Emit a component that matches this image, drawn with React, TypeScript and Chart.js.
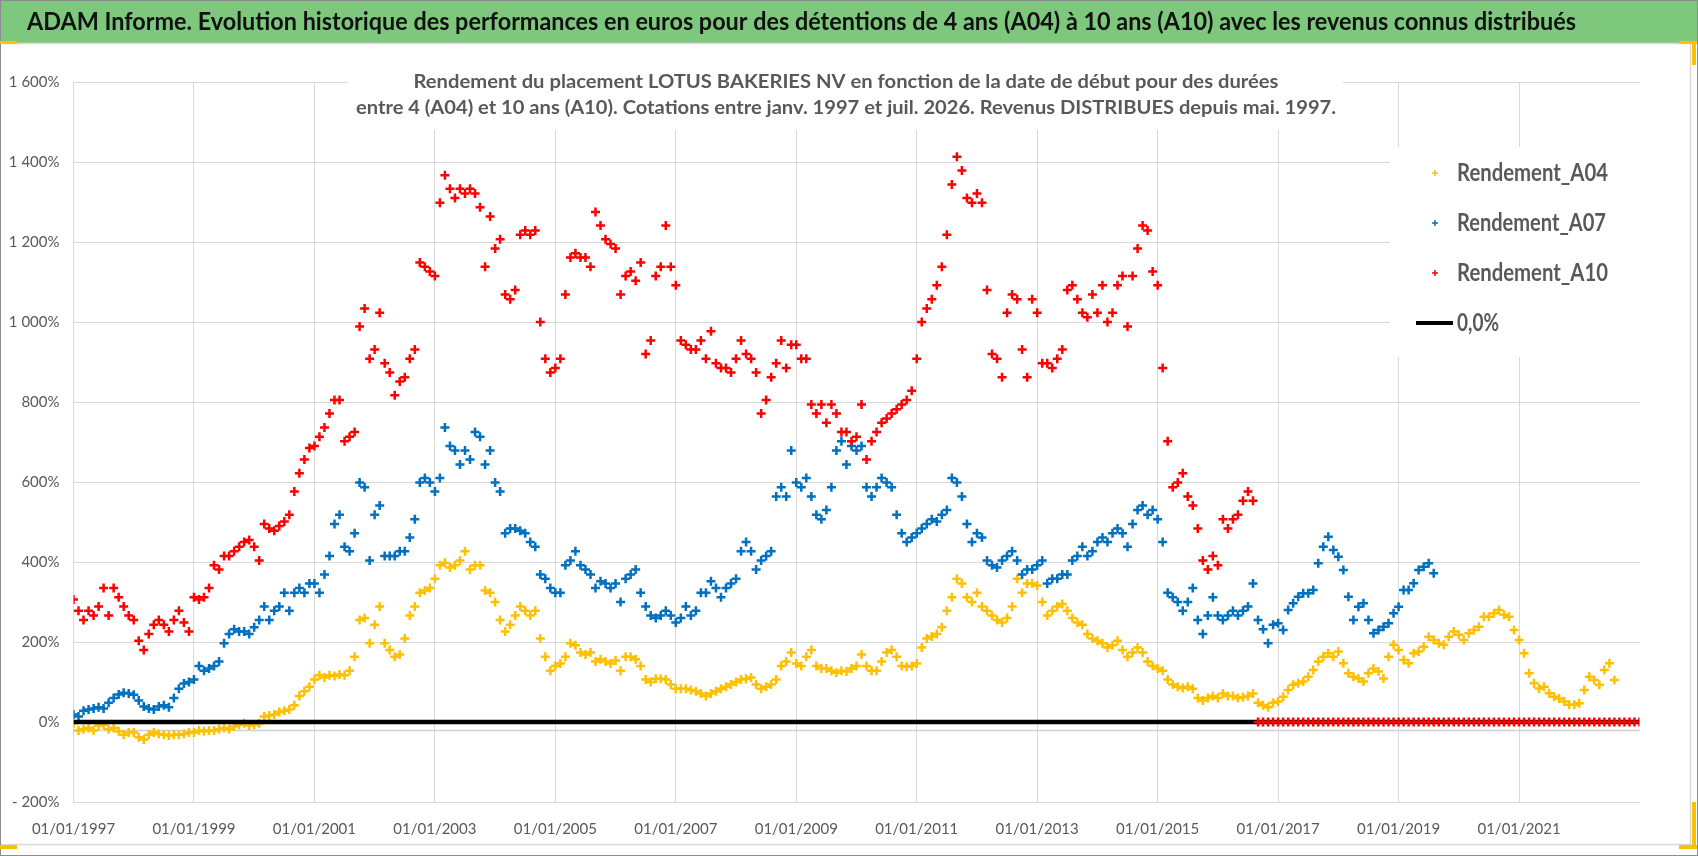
import React, { useEffect, useRef } from "react";
import { Chart, registerables } from "chart.js";

Chart.register(...registerables);

// first value of every series is January 1997, then one value per month
const START_YEAR = 1997;

const tickYears = [1997, 1999, 2001, 2003, 2005, 2007, 2009, 2011, 2013, 2015, 2017, 2019, 2021];

const seriesLabels = ["Rendement_A04", "Rendement_A07", "Rendement_A10"];
const seriesColors = ["#FFC000", "#0070C0", "#FF0000"];

// Rendement_A04 (%), monthly from 01/1997
const rendementA04 = [
  -3, -21, -18, -15, -21, -9, -7, -18, -15, -23, -32, -26,
  -26, -38, -44, -32, -26, -30, -32, -34, -32, -32, -30, -26,
  -26, -21, -23, -21, -21, -18, -15, -18, -11, -7, -3, -9,
  -7, -3, 14, 16, 19, 25, 28, 31, 42, 65, 77, 88,
  106, 117, 111, 117, 115, 119, 117, 128, 163, 255, 260, 197,
  243, 289, 197, 180, 163, 169, 209, 266, 289, 323, 329, 335,
  358, 392, 398, 386, 392, 404, 427, 381, 392, 392, 329, 323,
  300, 255, 226, 243, 266, 289, 278, 266, 278, 209, 163, 128,
  140, 146, 163, 197, 192, 174, 169, 174, 151, 157, 151, 146,
  154, 128, 163, 163, 157, 140, 106, 100, 108, 108, 106, 94,
  83, 83, 83, 80, 77, 71, 65, 71, 77, 83, 88, 94,
  100, 106, 108, 111, 94, 83, 88, 94, 106, 140, 151, 174,
  146, 140, 163, 180, 140, 134, 134, 128, 123, 128, 126, 134,
  140, 169, 140, 128, 128, 151, 174, 180, 163, 140, 138, 140,
  146, 186, 209, 214, 220, 237, 278, 312, 358, 346, 312, 300,
  323, 289, 278, 266, 255, 249, 260, 289, 358, 323, 346, 346,
  341, 300, 266, 278, 289, 295, 278, 260, 249, 243, 220, 209,
  203, 197, 186, 192, 203, 180, 163, 174, 186, 174, 151, 140,
  134, 128, 106, 94, 88, 85, 88, 83, 60, 54, 60, 65,
  60, 71, 65, 65, 60, 62, 65, 71, 48, 42, 37, 48,
  51, 63, 80, 93, 97, 101, 113, 130, 151, 163, 172, 163,
  176, 147, 122, 113, 109, 101, 122, 134, 126, 109, 163, 193,
  180, 155, 147, 172, 176, 188, 213, 205, 197, 193, 213, 226,
  218, 205, 222, 230, 238, 263, 263, 272, 280, 268, 263, 230,
  205, 172, 122, 97, 84, 88, 72, 63, 59, 51, 43, 43,
  47, 80, 113, 105, 93, 130, 147, 105,
];

// Rendement_A07 (%), monthly from 01/1997
const rendementA07 = [
  19, 14, 28, 31, 34, 37, 34, 48, 60, 69, 73, 71,
  68, 54, 39, 34, 31, 39, 42, 37, 60, 83, 96, 100,
  106, 140, 128, 134, 140, 151, 197, 220, 232, 226, 226, 220,
  237, 255, 289, 255, 278, 289, 323, 278, 323, 335, 323, 346,
  346, 323, 369, 415, 495, 518, 438, 427, 472, 599, 587, 404,
  518, 541, 415, 415, 415, 427, 427, 461, 507, 599, 610, 599,
  576, 610, 736, 690, 679, 644, 679, 656, 725, 713, 644, 679,
  599, 576, 472, 484, 484, 478, 472, 450, 438, 369, 358, 335,
  323, 323, 392, 404, 427, 392, 381, 369, 335, 352, 346, 335,
  346, 300, 358, 369, 381, 323, 289, 266, 260, 266, 278, 266,
  249, 260, 289, 266, 278, 323, 323, 352, 335, 312, 335, 346,
  358, 427, 450, 427, 381, 404, 415, 427, 564, 587, 564, 679,
  599, 587, 610, 564, 518, 507, 530, 587, 679, 702, 644, 690,
  679, 690, 587, 564, 587, 610, 599, 587, 518, 472, 450, 461,
  472, 484, 495, 507, 501, 518, 530, 610, 599, 564, 495, 450,
  472, 461, 404, 392, 386, 404, 415, 427, 404, 369, 381, 381,
  392, 404, 346, 358, 358, 369, 369, 404, 415, 438, 415, 427,
  450, 461, 450, 472, 484, 472, 438, 495, 530, 541, 518, 530,
  507, 450, 323, 312, 300, 278, 300, 335, 255, 220, 266, 312,
  266, 255, 266, 278, 266, 278, 289, 346, 255, 232, 197, 243,
  247, 230, 280, 297, 313, 322, 322, 330, 397, 438, 463, 430,
  413, 380, 313, 255, 288, 297, 255, 222, 230, 238, 247, 272,
  288, 330, 330, 347, 380, 388, 397, 372,
];

// Rendement_A10 (%), monthly from 01/1997 (0 once the 10 years are not complete)
const rendementA10 = [
  306, 278, 255, 278, 266, 289, 335, 266, 335, 312, 289, 266,
  255, 203, 180, 220, 243, 255, 243, 226, 255, 278, 249, 226,
  312, 306, 312, 335, 392, 381, 415, 415, 427, 438, 450, 455,
  438, 404, 495, 484, 478, 490, 501, 518, 576, 622, 656, 685,
  690, 713, 736, 771, 805, 805, 702, 713, 725, 989, 1034, 908,
  931, 1023, 897, 874, 817, 851, 862, 908, 931, 1149, 1138, 1126,
  1115, 1298, 1367, 1333, 1310, 1333, 1321, 1333, 1321, 1287, 1138, 1264,
  1184, 1207, 1069, 1057, 1080, 1218, 1229, 1218, 1229, 1000, 908, 874,
  885, 908, 1069, 1161, 1172, 1161, 1161, 1138, 1275, 1241, 1207, 1195,
  1184, 1069, 1115, 1126, 1103, 1149, 920, 954, 1115, 1138, 1241, 1138,
  1092, 954, 943, 931, 931, 954, 908, 977, 897, 885, 885, 874,
  908, 954, 920, 908, 874, 771, 805, 862, 897, 954, 885, 943,
  943, 908, 908, 794, 771, 794, 748, 794, 771, 725, 725, 702,
  713, 794, 656, 702, 725, 748, 759, 771, 782, 794, 805, 828,
  908, 1000, 1034, 1057, 1092, 1138, 1218, 1344, 1413, 1379, 1310, 1298,
  1321, 1298, 1080, 920, 908, 862, 1023, 1069, 1057, 931, 862, 1057,
  1023, 897, 897, 885, 908, 931, 1080, 1092, 1057, 1023, 1012, 1069,
  1023, 1092, 1000, 1023, 1092, 1115, 989, 1115, 1184, 1241, 1229, 1126,
  1092, 885, 702, 587, 599, 622, 564, 541, 484, 404, 381, 415,
  392, 507, 484, 507, 518, 553, 576, 553,
  0, 0, 0, 0, 0, 0, 0, 0, 0, 0, 0,
  0, 0, 0, 0, 0, 0, 0, 0, 0, 0, 0,
  0, 0, 0, 0, 0, 0, 0, 0, 0, 0, 0,
  0, 0, 0, 0, 0, 0, 0, 0, 0, 0, 0,
  0, 0, 0, 0, 0, 0, 0, 0, 0, 0, 0,
  0, 0, 0, 0, 0, 0, 0, 0, 0, 0, 0,
  0, 0, 0, 0, 0, 0, 0, 0, 0, 0, 0,
];

// the black 0,0% reference line
const zeroLineLabel = "0,0%";
const zeroLineYears = [1997, 2023];
const zeroLineValues = [0, 0];

const TITLE =
  "ADAM Informe. Evolution historique des performances en euros pour des détentions de 4 ans (A04) à 10 ans (A10) avec les revenus connus distribués";
const SUBTITLE = [
  "Rendement du placement LOTUS BAKERIES NV en fonction de la date de début pour des durées",
  "entre 4 (A04) et 10 ans (A10). Cotations entre janv. 1997 et juil. 2026. Revenus DISTRIBUES depuis mai. 1997.",
];

const GRID = "#D9D9D9";
const TEXT = "#595959";
const FONT = "Lato, 'Open Sans', sans-serif";

const toPoints = (values: number[]) =>
  values.map((v, i) => ({ x: START_YEAR + i / 12, y: v }));

const fmtPct = (v: number) => {
  const s = Math.abs(v).toString().replace(/\B(?=(\d{3})+(?!\d))/g, " ");
  return (v < 0 ? "- " : "") + s + "%";
};

// draw text squeezed/stretched to an exact width (Calibri look-alike)
function fitText(ctx: CanvasRenderingContext2D, text: string, x: number, y: number, width: number, align: "left" | "center") {
  const w = ctx.measureText(text).width;
  const k = width / w;
  ctx.save();
  ctx.translate(align === "center" ? x - width / 2 : x, y);
  ctx.scale(k, 1);
  ctx.textAlign = "left";
  ctx.textBaseline = "middle";
  ctx.fillText(text, 0, 0);
  ctx.restore();
}

const framePlugin = {
  id: "excelFrame",
  beforeDraw(chart: any) {
    const { ctx, width, height } = chart;
    ctx.save();
    ctx.fillStyle = "#FFFFFF";
    ctx.fillRect(0, 0, width, height);
    // green title banner
    ctx.fillStyle = "#7EC87E";
    ctx.fillRect(0, 0, width, 43);
    ctx.fillStyle = "#111111";
    ctx.font = `bold 25px ${FONT}`;
    fitText(ctx, TITLE, 27, 22, 1549, "left");
    // chart border
    ctx.strokeStyle = GRID;
    ctx.lineWidth = 1.5;
    ctx.beginPath();
    ctx.moveTo(0, 43.5);
    ctx.lineTo(1690.5, 43.5);
    ctx.lineTo(1690.5, 844.5);
    ctx.lineTo(0, 844.5);
    ctx.stroke();
    ctx.strokeStyle = "#8C8C8C";
    ctx.lineWidth = 1;
    ctx.strokeRect(0.5, 0.5, width - 1, height - 1);
    // selection handles
    ctx.fillStyle = "#FFC000";
    ctx.fillRect(0, 41, 17, 3);
    ctx.fillRect(0, 845, 17, 4);
    ctx.fillRect(1679, 41, 18, 3);
    ctx.fillRect(1692, 41, 4, 24);
    ctx.fillRect(1692, 802, 4, 47);
    ctx.fillRect(1679, 845, 18, 4);
    ctx.restore();
  },
  beforeDatasetsDraw(chart: any) {
    // horizontal axis line, just under the 0% level
    const { ctx, chartArea, scales } = chart;
    const y = Math.round(scales.y.getPixelForValue(-20)) + 0.5;
    ctx.save();
    ctx.strokeStyle = "#CFCFCF";
    ctx.lineWidth = 1.5;
    ctx.beginPath();
    ctx.moveTo(chartArea.left, y);
    ctx.lineTo(chartArea.right, y);
    ctx.stroke();
    ctx.restore();
  },
  afterDraw(chart: any) {
    const { ctx } = chart;
    ctx.save();
    // subtitle inside the plot
    ctx.fillStyle = "#FFFFFF";
    ctx.fillRect(348, 50, 995, 80);
    ctx.fillStyle = TEXT;
    ctx.font = `bold 18px ${FONT}`;
    fitText(ctx, SUBTITLE[0], 846, 82, 865, "center");
    fitText(ctx, SUBTITLE[1], 846, 108, 980, "center");

    // legend on the right
    ctx.fillStyle = "#FFFFFF";
    ctx.fillRect(1390, 147, 252, 210);
    const datasets = chart.data.datasets;
    const rows = [0, 1, 2, 3];
    const textWidths = [151, 149, 151, 42];
    rows.forEach((i) => {
      const ds = datasets[i];
      const y = 173 + i * 50;
      if (ds.type === "line") {
        ctx.strokeStyle = ds.borderColor;
        ctx.lineWidth = 4;
        ctx.beginPath();
        ctx.moveTo(1416, y);
        ctx.lineTo(1453, y);
        ctx.stroke();
      } else {
        ctx.strokeStyle = ds.borderColor;
        ctx.lineWidth = 1.5;
        ctx.beginPath();
        ctx.moveTo(1432, y);
        ctx.lineTo(1438, y);
        ctx.moveTo(1435, y - 3);
        ctx.lineTo(1435, y + 3);
        ctx.stroke();
      }
      ctx.fillStyle = TEXT;
      ctx.font = `bold 24px ${FONT}`;
      fitText(ctx, ds.label, 1457, y, textWidths[i], "left");
    });
    ctx.restore();
  },
};

const App: React.FC = () => {
  const canvasRef = useRef<HTMLCanvasElement>(null);

  useEffect(() => {
    const canvas = canvasRef.current;
    if (!canvas) return;

    const scatterStyle = (i: number) => ({
      label: seriesLabels[i],
      borderColor: seriesColors[i],
      backgroundColor: seriesColors[i],
      pointStyle: "cross" as const,
      pointRadius: 4.5,
      pointBorderWidth: 2.5,
      showLine: false,
    });

    const chart = new Chart(canvas, {
      type: "scatter",
      data: {
        datasets: [
          { ...scatterStyle(0), data: toPoints(rendementA04), order: 4 },
          { ...scatterStyle(1), data: toPoints(rendementA07), order: 3 },
          { ...scatterStyle(2), data: toPoints(rendementA10), order: 1 },
          {
            type: "line",
            label: zeroLineLabel,
            data: zeroLineYears.map((x, i) => ({ x, y: zeroLineValues[i] })),
            borderColor: "#000000",
            borderWidth: 4.5,
            pointRadius: 0,
            showLine: true,
            order: 2,
          },
        ] as any,
      },
      options: {
        responsive: false,
        animation: false,
        events: [],
        layout: { padding: { top: 82, right: 58.5, bottom: 0, left: 0 } },
        plugins: {
          legend: { display: false },
          title: { display: false },
          tooltip: { enabled: false },
        },
        scales: {
          x: {
            type: "linear",
            min: 1997,
            max: 2023,
            afterBuildTicks: (scale: any) => {
              scale.ticks = tickYears.map((value) => ({ value }));
            },
            afterFit: (scale: any) => {
              scale.height = 54;
            },
            grid: { color: GRID, lineWidth: 1, drawTicks: false },
            border: { color: GRID, width: 1 },
            ticks: {
              color: TEXT,
              font: { family: FONT, size: 15 },
              padding: 18,
              maxRotation: 0,
              autoSkip: false,
              callback: (v: any) => "01/01/" + v,
            },
          },
          y: {
            min: -200,
            max: 1600,
            afterFit: (scale: any) => {
              scale.width = 73.5;
            },
            grid: { color: GRID, lineWidth: 1, drawTicks: false },
            border: { color: GRID, width: 1 },
            ticks: {
              stepSize: 200,
              color: TEXT,
              font: { family: FONT, size: 15 },
              padding: 14,
              callback: (v: any) => fmtPct(Number(v)),
            },
          },
        },
      },
      plugins: [framePlugin],
    });

    return () => {
      chart.destroy();
    };
  }, []);

  return (
    <div style={{ position: "absolute", left: 0, top: 0, width: 1698, height: 856 }}>
      <canvas ref={canvasRef} width={1698} height={856} style={{ display: "block" }} />
    </div>
  );
};

export default App;
